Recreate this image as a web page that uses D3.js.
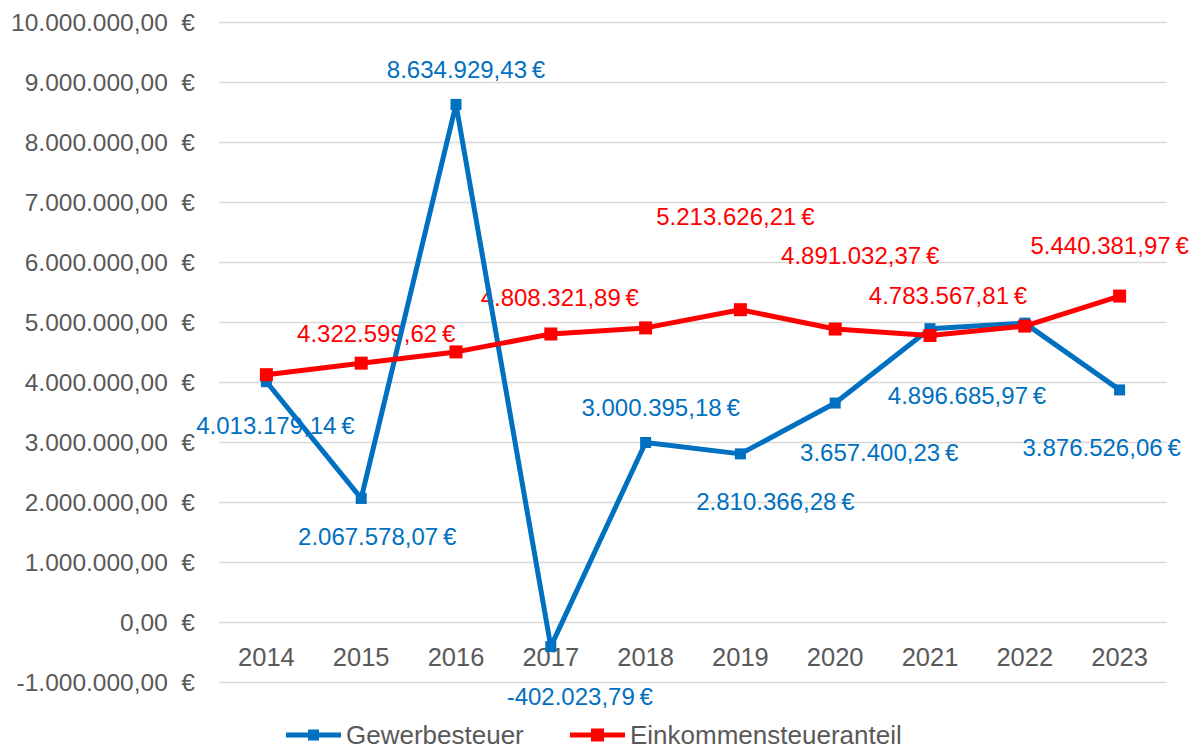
<!DOCTYPE html>
<html>
<head>
<meta charset="utf-8">
<script src="https://cdn.jsdelivr.net/npm/d3@7"></script>
<style>
  html, body { margin: 0; padding: 0; background: #fff; }
  svg { display: block; font-family: "Liberation Sans", Arial, sans-serif; }
</style>
</head>
<body>
<div id="chart"></div>
<script>
// Data
const years = ["2014", "2015", "2016", "2017", "2018", "2019", "2020", "2021", "2022", "2023"];
const gewerbesteuer = [4013179.14, 2067578.07, 8634929.43, -402023.79, 3000395.18, 2810366.28, 3657400.23, 4896685.97, 4990000, 3876526.06];
const einkommensteuer = [4130000, 4322599.62, 4510000, 4808321.89, 4910000, 5213626.21, 4891032.37, 4783567.81, 4940000, 5440381.97];
// which points carry a value label
const gewerbeLabeled = [true, true, true, true, true, true, true, true, false, true];
const einkommenLabeled = [false, true, false, true, false, true, true, true, false, true];
// label nudges (dx, dy) relative to the point
const gewerbeNudge = [[9, 44], [16, 38], [10, -35], [29, 50], [15, -35], [35, 47], [44, 49], [37, 67], [0, 0], [-18, 57]];
const einkommenNudge = [[0, 0], [15, -30], [0, 0], [9, -37], [0, 0], [-5, -93], [25, -74], [18, -40], [0, 0], [-10, -51]];
const yTicks = [-1000000, 0, 1000000, 2000000, 3000000, 4000000, 5000000, 6000000, 7000000, 8000000, 9000000, 10000000];

const width = 1189, height = 749;
const blue = "#0070C0", red = "#FF0000", grey = "#595959";

const de = d3.formatLocale({decimal: ",", thousands: ".", grouping: [3], currency: ["", " €"], minus: "-"});
const fmt = de.format(",.2f");

const svg = d3.select("#chart").append("svg")
    .attr("width", width)
    .attr("height", height);

var x = d3.scaleBand()
    .domain(years)
    .range([219, 1167]);

var y = d3.scaleLinear()
    .domain([-1000000, 10000000])
    .range([682.5, 22.5]);

// gridlines
svg.append("g")
    .selectAll("line")
    .data(yTicks)
    .join("line")
    .attr("x1", 219)
    .attr("x2", 1167)
    .attr("y1", d => y(d))
    .attr("y2", d => y(d))
    .attr("stroke", "#D9D9D9")
    .attr("stroke-width", 1.5);

// y-axis labels
svg.append("g")
    .selectAll("text")
    .data(yTicks)
    .join("text")
    .attr("x", 195)
    .attr("y", d => y(d))
    .attr("dy", "0.36em")
    .attr("text-anchor", "end")
    .attr("fill", grey)
    .style("font-size", "24.5px")
    .text(d => fmt(d) + "\u00a0\u00a0€");

// category labels sit below the zero line
svg.append("g")
    .selectAll("text")
    .data(years)
    .join("text")
    .attr("x", d => x(d) + x.bandwidth() / 2)
    .attr("y", y(0) + 34)
    .attr("dy", "0.36em")
    .attr("text-anchor", "middle")
    .attr("fill", grey)
    .style("font-size", "25.5px")
    .text(d => d);

const cx = (d, i) => x(years[i]) + x.bandwidth() / 2;

function drawLabels(values, labeled, nudge, color) {
    svg.append("g")
        .selectAll("text")
        .data(values.map((v, i) => ({v, i})).filter(d => labeled[d.i]))
        .join("text")
        .attr("x", d => cx(d.v, d.i) + nudge[d.i][0])
        .attr("y", d => y(d.v) + nudge[d.i][1])
        .attr("dy", "0.36em")
        .attr("text-anchor", "middle")
        .attr("fill", color)
        .style("font-size", "24px")
        .text(d => fmt(d.v) + "\u202f€");
}

function drawSeries(values, color, size) {
    var line = d3.line()
        .x((d, i) => cx(d, i))
        .y(d => y(d));
    svg.append("path")
        .datum(values)
        .attr("d", line)
        .attr("fill", "none")
        .attr("stroke", color)
        .attr("stroke-width", 5)
        .attr("stroke-linejoin", "round");
    svg.append("g")
        .selectAll("rect")
        .data(values)
        .join("rect")
        .attr("x", (d, i) => cx(d, i) - size / 2)
        .attr("y", d => y(d) - size / 2)
        .attr("width", size)
        .attr("height", size)
        .attr("fill", color);
}

// labels go under the lines, as in the original
drawLabels(gewerbesteuer, gewerbeLabeled, gewerbeNudge, blue);
drawLabels(einkommensteuer, einkommenLabeled, einkommenNudge, red);
drawSeries(gewerbesteuer, blue, 11);
drawSeries(einkommensteuer, red, 13);

// legend
const legend = [
    {name: "Gewerbesteuer", color: blue, x: 286, size: 11},
    {name: "Einkommensteueranteil", color: red, x: 570, size: 13}
];
const lg = svg.append("g").selectAll("g")
    .data(legend)
    .join("g")
    .attr("transform", d => "translate(" + d.x + ",735)");
lg.append("line")
    .attr("x1", 0).attr("x2", 55)
    .attr("stroke", d => d.color)
    .attr("stroke-width", 5);
lg.append("rect")
    .attr("x", d => 27.5 - d.size / 2)
    .attr("y", d => -d.size / 2)
    .attr("width", d => d.size)
    .attr("height", d => d.size)
    .attr("fill", d => d.color);
lg.append("text")
    .attr("x", 60)
    .attr("dy", "0.36em")
    .attr("fill", grey)
    .style("font-size", "26px")
    .text(d => d.name);
</script>
</body>
</html>
